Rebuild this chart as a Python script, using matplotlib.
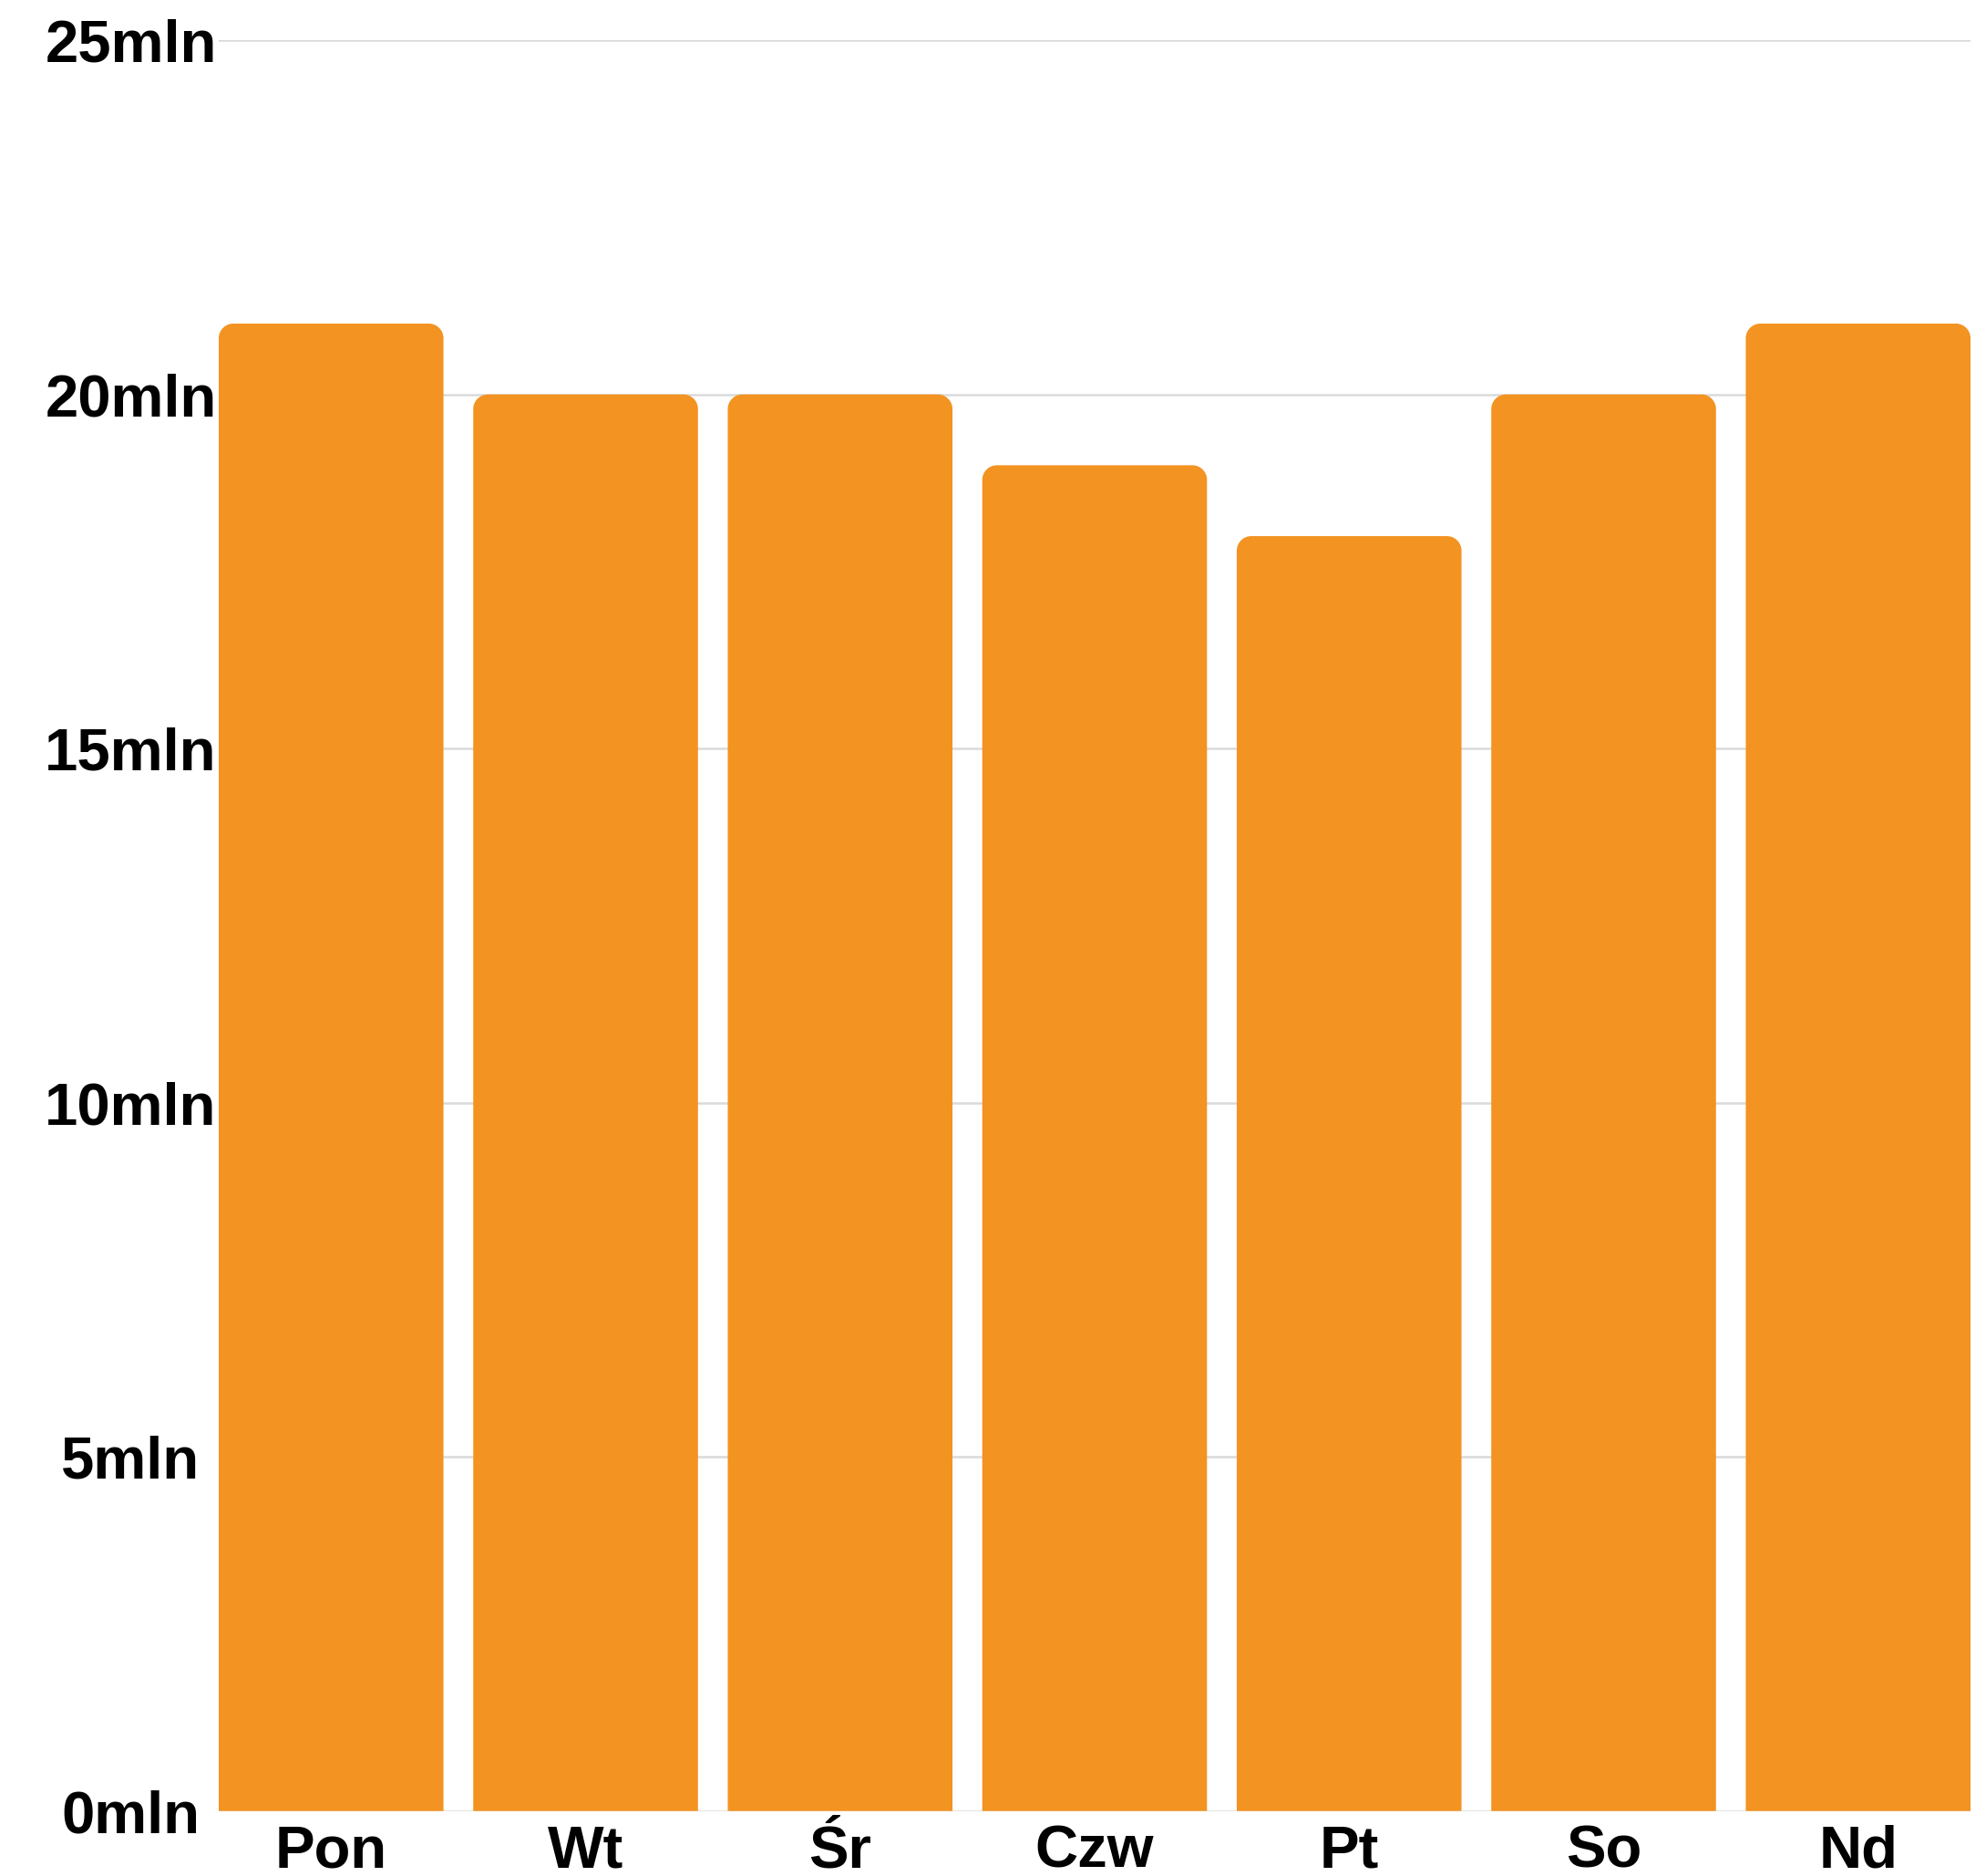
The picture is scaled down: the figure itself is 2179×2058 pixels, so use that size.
import matplotlib
matplotlib.use("Agg")
import matplotlib.pyplot as plt
from matplotlib.path import Path
from matplotlib.patches import PathPatch

# Weekly data
days = ["Pon", "Wt", "Śr", "Czw", "Pt", "So", "Nd"]
values = [21, 20, 20, 19, 18, 20, 21]          # millions
y_ticks = [0, 5, 10, 15, 20, 25]
y_tick_labels = [f"{v}mln" for v in y_ticks]

BAR_COLOR = "#F39322"
GRID_COLOR = "#DADADA"
BAR_WIDTH = 0.883
CORNER_PX = 16

plt.rcParams["font.family"] = ["Liberation Sans", "DejaVu Sans"]

DPI = 100
fig = plt.figure(figsize=(2179 / DPI, 2058 / DPI), dpi=DPI, facecolor="white")
ax = fig.add_axes([240 / 2179, 1 - 1986.7 / 2058, (2162 - 240) / 2179, (1986.7 - 44.2) / 2058])

x = list(range(len(days)))
bars = ax.bar(x, values, width=BAR_WIDTH, color=BAR_COLOR, linewidth=0, zorder=2)

ax.set_xlim(-BAR_WIDTH / 2, len(days) - 1 + BAR_WIDTH / 2)
ax.set_ylim(0, 25)

# Replace plain rectangles with top-rounded shapes
fig.canvas.draw()
bb = ax.get_window_extent()
px_x = bb.width / (ax.get_xlim()[1] - ax.get_xlim()[0])
px_y = bb.height / (ax.get_ylim()[1] - ax.get_ylim()[0])
rx, ry = CORNER_PX / px_x, CORNER_PX / px_y
k = 0.5523
for rect in bars.patches:
    x0, y0 = rect.get_x(), rect.get_y()
    x1, y1 = x0 + rect.get_width(), y0 + rect.get_height()
    verts = [
        (x0, y0), (x0, y1 - ry),
        (x0, y1 - ry + k * ry), (x0 + rx - k * rx, y1), (x0 + rx, y1),
        (x1 - rx, y1),
        (x1 - rx + k * rx, y1), (x1, y1 - ry + k * ry), (x1, y1 - ry),
        (x1, y0), (x0, y0),
    ]
    codes = [Path.MOVETO, Path.LINETO,
             Path.CURVE4, Path.CURVE4, Path.CURVE4,
             Path.LINETO,
             Path.CURVE4, Path.CURVE4, Path.CURVE4,
             Path.LINETO, Path.CLOSEPOLY]
    ax.add_patch(PathPatch(Path(verts, codes), facecolor=BAR_COLOR,
                           edgecolor="none", zorder=2))
    rect.set_visible(False)

# Horizontal grid lines
ax.set_yticks(y_ticks)
ax.set_yticklabels(y_tick_labels)
ax.yaxis.grid(True, color=GRID_COLOR, linewidth=1.8, zorder=0)
ax.set_axisbelow(True)

ax.set_xticks(x)
ax.set_xticklabels(days)

for s in ax.spines.values():
    s.set_visible(False)

ax.tick_params(axis="both", length=0, labelsize=47, labelcolor="black")
ax.tick_params(axis="y", pad=69.5)
ax.tick_params(axis="x", pad=10.5)
for lbl in ax.get_yticklabels():
    lbl.set_fontweight("bold")
    lbl.set_ha("center")
for lbl in ax.get_xticklabels():
    lbl.set_fontweight("bold")

fig.savefig("out.png", dpi=DPI, facecolor="white")
